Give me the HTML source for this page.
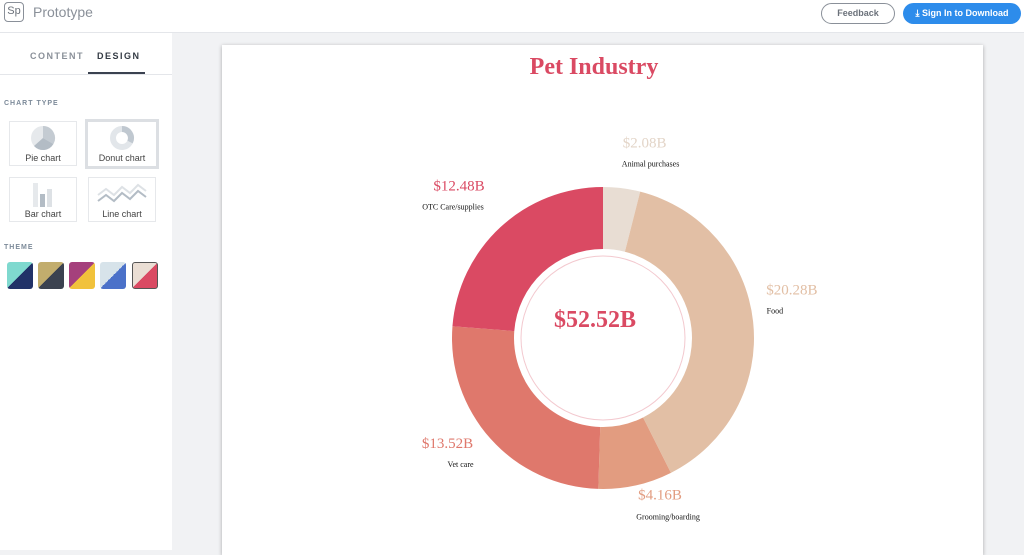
<!DOCTYPE html>
<html><head><meta charset="utf-8"><style>
*{box-sizing:border-box;margin:0;padding:0}
body{width:1024px;height:550px;overflow:hidden;background:#f1f2f4;font-family:"Liberation Sans",sans-serif;position:relative}
.abs{position:absolute}
#header{left:0;top:0;width:1024px;height:33px;background:#fff;border-bottom:1px solid #e4e6ea}
#sidebar{left:0;top:33px;width:172px;height:517px;background:#fff}
.card{position:absolute;border:1px solid #e6e8eb;background:#fff;font-size:9px;color:#444;text-align:center}
.sw{position:absolute;top:262px;width:26px;height:27px;border-radius:3px}
</style></head><body>
<div id="header" class="abs">
 <div class="abs" style="left:4px;top:2px;width:20px;height:20px;border:1.5px solid #8a9099;border-radius:4px;font-size:11px;color:#6b717a;text-align:center;line-height:17px">Sp</div>
 <div class="abs" style="left:33px;top:4px;font-size:14px;color:#8a9099">Prototype</div>
 <div class="abs" style="left:821px;top:3px;width:74px;height:21px;border:1.5px solid #8a9099;border-radius:11px;font-size:9px;color:#6b717a;text-align:center;line-height:18px;font-weight:bold">Feedback</div>
 <div class="abs" style="left:903px;top:3px;width:118px;height:21px;background:#2d8ceb;border-radius:11px;font-size:9px;color:#fff;text-align:center;line-height:21px;font-weight:bold">⤓ Sign In to Download</div>
</div>
<div id="sidebar" class="abs">
 <div class="abs" style="left:30px;top:18px;font-size:9px;letter-spacing:1.5px;color:#8a9099;font-weight:bold">CONTENT</div>
 <div class="abs" style="left:97px;top:18px;font-size:9px;letter-spacing:1.5px;color:#333a44;font-weight:bold">DESIGN</div>
 <div class="abs" style="left:88px;top:39px;width:57px;height:2px;background:#3b4250"></div>
 <div class="abs" style="left:0;top:41px;width:172px;height:1px;background:#e4e6ea"></div>
 <div class="abs" style="left:4px;top:67px;font-size:7px;letter-spacing:1px;color:#7c8a99;font-weight:bold">CHART TYPE</div>
 <div class="card" style="left:9px;top:88px;width:68px;height:45px"><svg width="26" height="26" style="margin-top:3px"><circle cx="13" cy="13" r="12" fill="#e6e9ec"/><path d="M13 13 L13 1 A12 12 0 0 1 23.4 19 Z" fill="#c4cbd2"/><path d="M13 13 L23.4 19 A12 12 0 0 1 4 21 Z" fill="#b3bcc5"/></svg><div style="margin-top:0px">Pie chart</div></div>
 <div class="card" style="left:85px;top:86px;width:74px;height:50px;border:3px solid #dcdfe3"><svg width="26" height="26" style="margin-top:3px"><circle cx="13" cy="13" r="9" fill="none" stroke="#e2e6ea" stroke-width="6"/><path d="M13 4 A9 9 0 0 1 21 17" fill="none" stroke="#c0c8d0" stroke-width="6"/></svg><div>Donut chart</div></div>
 <div class="card" style="left:9px;top:144px;width:68px;height:45px"><svg width="26" height="26" style="margin-top:3px"><rect x="3" y="2" width="5" height="24" fill="#e6e9ec"/><rect x="10" y="13" width="5" height="13" fill="#b3bcc5"/><rect x="17" y="8" width="5" height="18" fill="#dde1e5"/></svg><div>Bar chart</div></div>
 <div class="card" style="left:88px;top:144px;width:68px;height:45px"><svg width="52" height="26" style="margin-top:3px"><polyline points="2,14 10,8 18,14 26,6 34,12 42,4 50,10" fill="none" stroke="#dde1e5" stroke-width="2"/><polyline points="2,20 10,14 18,20 26,12 34,18 42,10 50,16" fill="none" stroke="#b3bcc5" stroke-width="2"/></svg><div>Line chart</div></div>
 <div class="abs" style="left:4px;top:211px;font-size:7px;letter-spacing:1px;color:#7c8a99;font-weight:bold">THEME</div>
</div>
<div class="sw" style="left:7px;background:linear-gradient(135deg,#7fd9cf 50%,#213268 50%)"></div>
<div class="sw" style="left:38px;background:linear-gradient(135deg,#c2ad6d 50%,#3b4250 50%)"></div>
<div class="sw" style="left:69px;background:linear-gradient(135deg,#a5407c 50%,#f1c23b 50%)"></div>
<div class="sw" style="left:100px;background:linear-gradient(135deg,#d7e3ea 50%,#4b71c9 50%)"></div>
<div class="sw" style="left:132px;background:linear-gradient(135deg,#eaded4 50%,#da4a63 50%);border:1.5px solid #555"></div>
<div class="abs" style="left:222px;top:45px;width:761px;height:510px;background:#fff;box-shadow:0 1px 4px rgba(0,0,0,.3)"></div>
<svg class="abs" style="left:0;top:0" width="1024" height="550" id="chart">
 <text x="594" y="74" text-anchor="middle" font-family="Liberation Serif,serif" font-weight="bold" font-size="24" fill="#da4a63">Pet Industry</text>
</svg>
<script>
const categories=["Animal purchases","Food","Grooming/boarding","Vet care","OTC Care/supplies"];
const values=[2.08,20.28,4.16,13.52,12.48];
const valueLabels=["$2.08B","$20.28B","$4.16B","$13.52B","$12.48B"];
const totalLabel="$52.52B";
const colors=["#e8ddd3","#e2bfa5","#e29c80","#df786c","#da4a63"];
// layout nudges for label placement (not data)
const labelNudge=[[18,-7],[0,-28],[16,-29],[-14,-22],[-15,-13]];
const nameNudge=[[6,21],[-17,21],[8,22],[13,21],[-6,21]];
const ns="http://www.w3.org/2000/svg",svg=document.getElementById('chart');
const cx=603,cy=338,R=151,r=89;
const total=values.reduce((a,b)=>a+b,0);
function pt(a,rad){return [cx+rad*Math.sin(a),cy-rad*Math.cos(a)];}
let acc=0;
values.forEach((v,i)=>{
 const a0=acc/total*2*Math.PI;acc+=v;const a1=acc/total*2*Math.PI;
 const big=a1-a0>Math.PI?1:0;
 const [x0,y0]=pt(a0,R),[x1,y1]=pt(a1,R),[x2,y2]=pt(a1,r),[x3,y3]=pt(a0,r);
 const p=document.createElementNS(ns,'path');
 p.setAttribute('d',`M${x0} ${y0}A${R} ${R} 0 ${big} 1 ${x1} ${y1}L${x2} ${y2}A${r} ${r} 0 ${big} 0 ${x3} ${y3}Z`);
 p.setAttribute('fill',colors[i]);
 
 
 svg.appendChild(p);
 const am=(a0+a1)/2;
 const [px,py]=pt(am,190);
 const vx=px+labelNudge[i][0], vy=py+labelNudge[i][1];
 const t=document.createElementNS(ns,'text');
 t.setAttribute('x',vx);t.setAttribute('y',vy+5);
 t.setAttribute('text-anchor','middle');t.setAttribute('font-family','Liberation Serif,serif');
 t.setAttribute('font-size','15');t.setAttribute('fill',colors[i]==='#e8ddd3'?'#e3d5c8':colors[i]);
 t.textContent=valueLabels[i];
 
 
 svg.appendChild(t);
 const n=document.createElementNS(ns,'text');
 n.setAttribute('x',vx+nameNudge[i][0]);n.setAttribute('y',vy+nameNudge[i][1]+3);
 n.setAttribute('text-anchor','middle');n.setAttribute('font-family','Liberation Serif,serif');
 n.setAttribute('font-size','8');n.setAttribute('fill','#111');
 n.textContent=categories[i];
 
 
 svg.appendChild(n);
});
const c=document.createElementNS(ns,'circle');
c.setAttribute('cx',cx);c.setAttribute('cy',cy);c.setAttribute('r',82);
c.setAttribute('fill','none');c.setAttribute('stroke','#f3c9cf');c.setAttribute('stroke-width','1');


svg.appendChild(c);
const tt=document.createElementNS(ns,'text');
tt.setAttribute('x',cx-8);tt.setAttribute('y',cy-11);tt.setAttribute('text-anchor','middle');
tt.setAttribute('font-family','Liberation Serif,serif');tt.setAttribute('font-weight','bold');
tt.setAttribute('font-size','24');tt.setAttribute('fill','#da4a63');
tt.textContent=totalLabel;


svg.appendChild(tt);
</script>
</body></html>
